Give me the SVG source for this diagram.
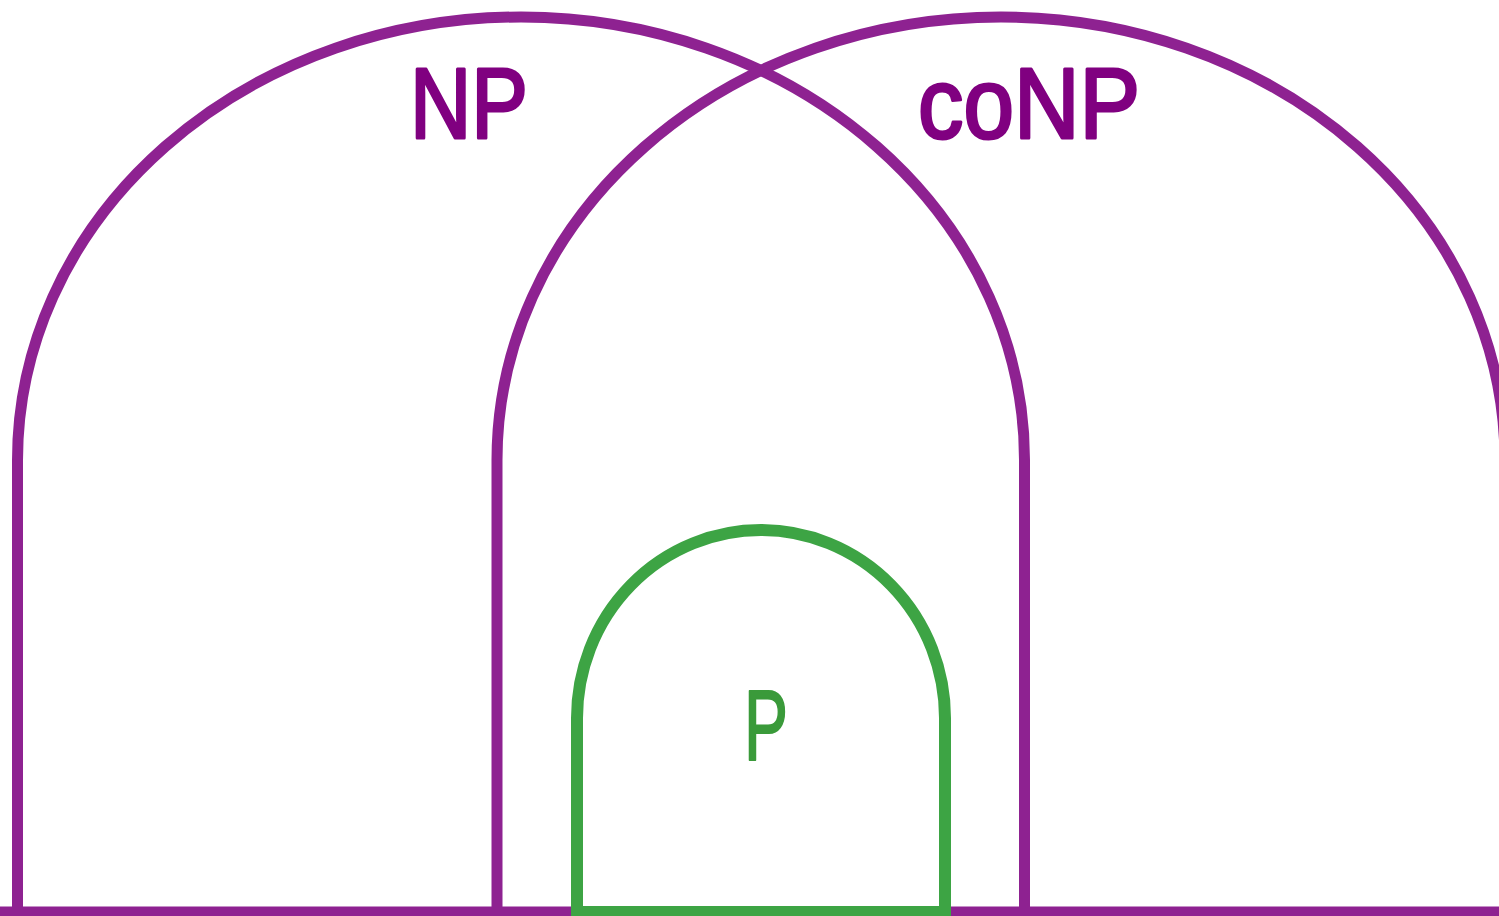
<svg xmlns="http://www.w3.org/2000/svg" width="1499" height="916" viewBox="0 0 1499 916">
<style>
.np{fill:none;stroke:#8E2291;stroke-width:11}
.p{fill:none;stroke:#3DA444;stroke-width:12}
.lblp{font-family:"Liberation Sans",Arial,sans-serif;font-size:100px;fill:#800080;stroke:#800080;stroke-width:3;stroke-linejoin:round}
.lblg{font-family:"Liberation Sans",Arial,sans-serif;font-size:100px;fill:#3A9A3A;stroke:#3A9A3A;stroke-width:2;stroke-linejoin:round}
</style>
<rect width="1499" height="916" fill="#fff"/>
<g id="connectors"></g>
<g id="NP">
<path class="np" d="M17.5,912 V460 A503.5,443 0 0 1 1024.5,460 V912"/>
<text class="lblp" x="410" y="138" textLength="118" lengthAdjust="spacingAndGlyphs">NP</text>
</g>
<g id="coNP">
<path class="np" d="M497,912 V460 A504,443 0 0 1 1505,460 V912"/>
<text class="lblp" x="918" y="138" textLength="222" lengthAdjust="spacingAndGlyphs">coNP</text>
</g>
<g id="base">
<line class="np" x1="0" y1="912" x2="1499" y2="912"/>
</g>
<g id="P">
<path class="p" d="M577,916 V718 A184,188 0 0 1 945,718 V916 M577,912 H945"/>
<text class="lblg" x="744" y="760" textLength="44" lengthAdjust="spacingAndGlyphs">P</text>
</g>
</svg>
